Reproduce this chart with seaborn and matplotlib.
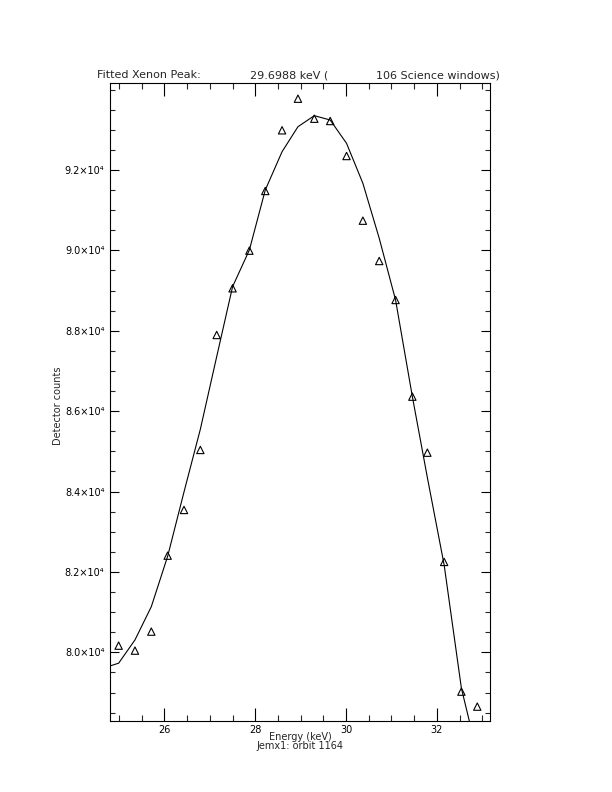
import matplotlib
matplotlib.use("Agg")
import matplotlib.pyplot as plt
import seaborn as sns
import pandas as pd
from matplotlib.ticker import MultipleLocator, FixedLocator

# Measured data (triangles)
energy = [24.99, 25.35, 25.71, 26.07, 26.43, 26.79, 27.15, 27.50, 27.87, 28.22,
          28.59, 28.94, 29.30, 29.65, 30.01, 30.37, 30.73, 31.09, 31.46, 31.79,
          32.16, 32.54, 32.89]
counts = [80166, 80042, 80515, 82405, 83542, 85035, 87895, 89057, 89993, 91478,
          92988, 93774, 93276, 93219, 92348, 90739, 89736, 88766, 86361, 84967,
          82249, 79022, 78649]

# Fitted curve (polyline vertices)
fit_energy = [24.63, 24.99, 25.35, 25.71, 26.07, 26.43, 26.79, 27.15, 27.50, 27.87,
              28.22, 28.59, 28.94, 29.30, 29.65, 30.01, 30.37, 30.73, 31.09, 31.46,
              31.79, 32.16, 32.54, 32.89]
fit_counts = [79600, 79729, 80308, 81136, 82390, 83990, 85550, 87356, 89097, 90010,
              91502, 92455, 93077, 93351, 93244, 92664, 91669, 90301, 88766, 86361,
              84350, 82174, 79106, 77472]

ytick_vals = [80000, 82000, 84000, 86000, 88000, 90000, 92000]
ytick_labels = ["8.0×10⁴", "8.2×10⁴", "8.4×10⁴", "8.6×10⁴", "8.8×10⁴", "9.0×10⁴", "9.2×10⁴"]
xtick_vals = [26, 28, 30, 32]
xtick_labels = ["26", "28", "30", "32"]

title_parts = ["Fitted Xenon Peak:", "29.6988 keV (", "106 Science windows)"]
xlabel = "Energy (keV)"
subtitle = "Jemx1: orbit 1164"
ylabel = "Detector counts"

sns.set_style("white")
plt.rcParams["font.family"] = ["DejaVu Sans"]

df_pts = pd.DataFrame({"energy": energy, "counts": counts})
df_fit = pd.DataFrame({"energy": fit_energy, "counts": fit_counts})

fig = plt.figure(figsize=(6.12, 7.92), dpi=100)
ax = fig.add_axes([110/612, 1 - 721/792, 380/612, (721 - 83.3)/792])

sns.lineplot(data=df_fit, x="energy", y="counts", ax=ax, color="black",
             linewidth=0.8, sort=False, estimator=None)
sns.scatterplot(data=df_pts, x="energy", y="counts", ax=ax, marker="^",
                s=28, facecolors="none", edgecolor="black", linewidth=0.8)

ax.set_xlim(24.8, 33.17)
ax.set_ylim(78291, 94157)

ax.xaxis.set_major_locator(FixedLocator(xtick_vals))
ax.set_xticklabels(xtick_labels)
ax.xaxis.set_minor_locator(MultipleLocator(0.5))
ax.yaxis.set_major_locator(FixedLocator(ytick_vals))
ax.set_yticklabels(ytick_labels)
ax.yaxis.set_minor_locator(MultipleLocator(500))

ax.tick_params(axis="x", which="major", direction="in", length=9.1, width=0.8,
               top=True, bottom=True, labelsize=7, pad=3, colors="black")
ax.tick_params(axis="x", which="minor", direction="in", length=4.6, width=0.8,
               top=True, bottom=True)
ax.tick_params(axis="y", which="major", direction="in", length=6.3, width=0.8,
               left=True, right=True, labelsize=7, pad=4, colors="black")
ax.tick_params(axis="y", which="minor", direction="in", length=3.4, width=0.8,
               left=True, right=True)

for sp in ax.spines.values():
    sp.set_visible(True)
    sp.set_color("black")
    sp.set_linewidth(0.8)

ax.set_xlabel("")
ax.set_ylabel("")

# Axis labels and title placed in figure pixel coordinates
fig.text(300/612, 1 - 737/792, xlabel, ha="center", va="center", fontsize=7)
fig.text(300/612, 1 - 746/792, subtitle, ha="center", va="center", fontsize=7)
fig.text(58/612, 1 - 406/792, ylabel, ha="center", va="center", rotation=90, fontsize=7)

fig.text(97/612, 1 - 75/792, title_parts[0], ha="left", va="center", fontsize=8)
fig.text(250/612, 1 - 75/792, title_parts[1], ha="left", va="center", fontsize=8)
fig.text(500/612, 1 - 75/792, title_parts[2], ha="right", va="center", fontsize=8)

fig.savefig("out.png", dpi=100, facecolor="white")
